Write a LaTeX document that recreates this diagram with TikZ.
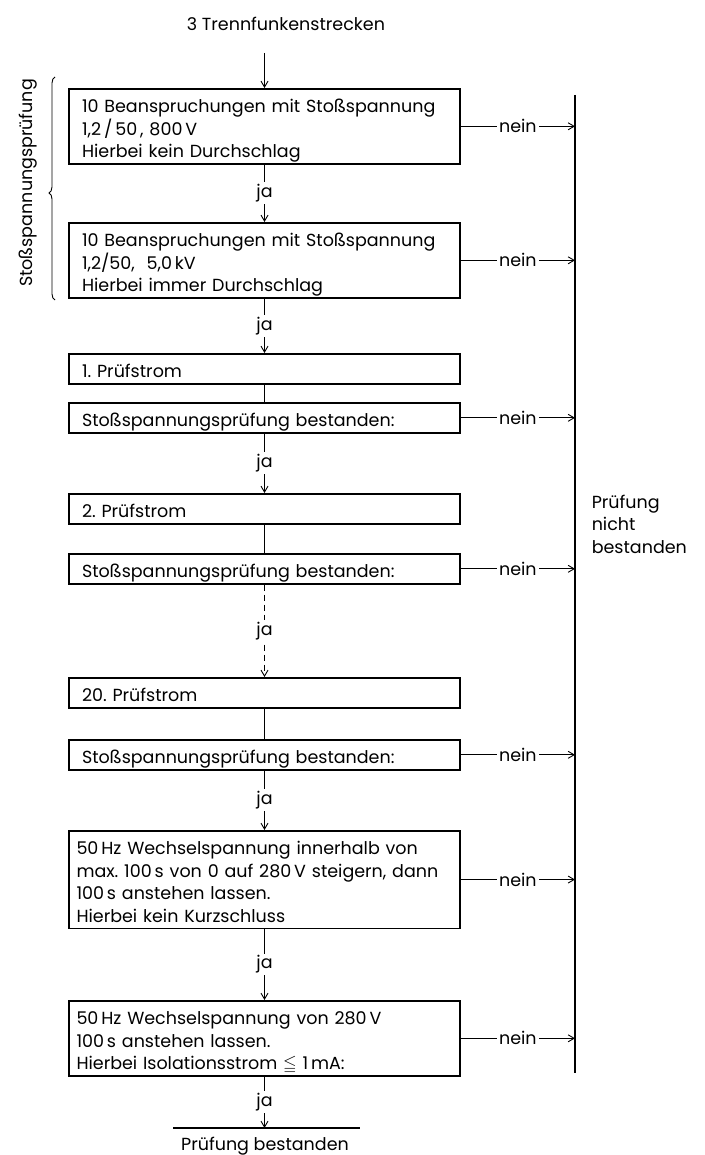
\documentclass[tikz,border=0pt]{standalone}
\usepackage{amssymb}
\usepackage{fontspec}
\setmainfont{Poppins}
\usetikzlibrary{arrows.meta,decorations.pathreplacing}

% first line strut and last line (descenders may cross the frame)
\newcommand{\firstln}{\rule{0pt}{24pt}}
\newcommand{\lastln}[1]{\smash{#1}\rule[-6pt]{0pt}{6pt}}

\begin{document}
\begin{tikzpicture}[
        x=1pt, y=-1pt,
        >={Straight Barb[length=6pt,width=7pt]},
        line width=0.9pt,
        every node/.style={font=\fontsize{17.5}{22.5}\selectfont},
        box/.style={draw, line width=1.6pt, anchor=north, text width=365pt,
            align=left, inner xsep=13pt, inner ysep=0pt},
        widebox/.style={box, text width=376pt, inner xsep=7.5pt},
        lbl/.style={fill=white, inner sep=2pt}
    ]
    \useasboundingbox (0,0) rectangle (704,1155);

    % Start
    \node (start) at (286,24) {3 Trennfunkenstrecken};
    \coordinate (in) at (264.5,53);

    % Left: impulse voltage test group
    \draw[decorate, decoration={brace, amplitude=6pt, aspect=0.48}]
        (55,300) -- (55,77);
    \node[rotate=90] (group) at (28,183) {Stoßspannungsprüfung};

    % Test steps
    \node[box] (b1) at (264.5,88) {\firstln\mbox{10 Beanspruchungen mit Stoßspannung}\\
        1,2\,/\,50\,, 800\,V\\ \lastln{Hierbei kein Durchschlag}};
    \node[box] (b2) at (264.5,222) {\firstln\mbox{10 Beanspruchungen mit Stoßspannung}\\
        1,2/50, \ 5,0\,kV\\ \lastln{Hierbei immer Durchschlag}};
    \node[box] (b3) at (264.5,353) {\firstln\lastln{1.\ Prüfstrom}};
    \node[box] (b4) at (264.5,402) {\firstln\lastln{Stoßspannungsprüfung bestanden:}};
    \node[box] (b5) at (264.5,493) {\firstln\lastln{2.\ Prüfstrom}};
    \node[box] (b6) at (264.5,553) {\firstln\lastln{Stoßspannungsprüfung bestanden:}};
    \node[box] (b7) at (264.5,677) {\firstln\lastln{20.\ Prüfstrom}};
    \node[box] (b8) at (264.5,739) {\firstln\lastln{Stoßspannungsprüfung bestanden:}};
    \node[widebox] (b9) at (264.5,830) {\firstln 50\,Hz Wechselspannung innerhalb von\\
        \mbox{max.\ 100\,s von 0 auf 280\,V steigern, dann}\\
        100\,s anstehen lassen.\\ \lastln{Hierbei kein Kurzschluss}};
    \node[widebox] (b10) at (264.5,1000) {\firstln 50\,Hz Wechselspannung von 280\,V\\
        100\,s anstehen lassen.\\ \lastln{Hierbei Isolationsstrom $\leqq$ 1\,mA:}};

    % End
    \coordinate (endL) at (173,1128);
    \coordinate (endR) at (360,1128);
    \draw[line width=1.6pt] (endL) -- (endR);
    \node (pass) at (265,1146) {Prüfung bestanden};

    % Main flow
    \draw[->] (in) -- (b1.north);
    \draw[->] (b1.south) -- node[lbl] {ja} (b2.north);
    \draw[->] (b2.south) -- node[lbl] {ja} (b3.north);
    \draw (b3.south) -- (b4.north);
    \draw[->] (b4.south) -- node[lbl] {ja} (b5.north);
    \draw (b5.south) -- (b6.north);
    \draw[->, dash pattern=on 6pt off 4pt] (b6.south) -- node[lbl] {ja} (b7.north);
    \draw (b7.south) -- (b8.north);
    \draw[->] (b8.south) -- node[lbl] {ja} (b9.north);
    \draw[->] (b9.south) -- node[lbl] {ja} (b10.north);
    \draw[->] (b10.south) -- node[lbl] {ja} (b10.south |- endL);

    % Right: failed branch
    \coordinate (topR) at (575,95);
    \coordinate (botR) at (575,1073);
    \draw[line width=1.6pt] (topR) -- (botR);
    \node[anchor=west, align=left] (fail) at (588,524) {Prüfung\\nicht\\bestanden};
    \draw[->] (b1.east) -- node[lbl] {nein} (b1.east -| topR);
    \draw[->] (b2.east) -- node[lbl] {nein} (b2.east -| topR);
    \draw[->] (b4.east) -- node[lbl] {nein} (b4.east -| topR);
    \draw[->] (b6.east) -- node[lbl] {nein} (b6.east -| topR);
    \draw[->] (b8.east) -- node[lbl] {nein} (b8.east -| topR);
    \draw[->] (b9.east) -- node[lbl] {nein} (b9.east -| topR);
    \draw[->] (b10.east) -- node[lbl] {nein} (b10.east -| topR);
\end{tikzpicture}
\end{document}
